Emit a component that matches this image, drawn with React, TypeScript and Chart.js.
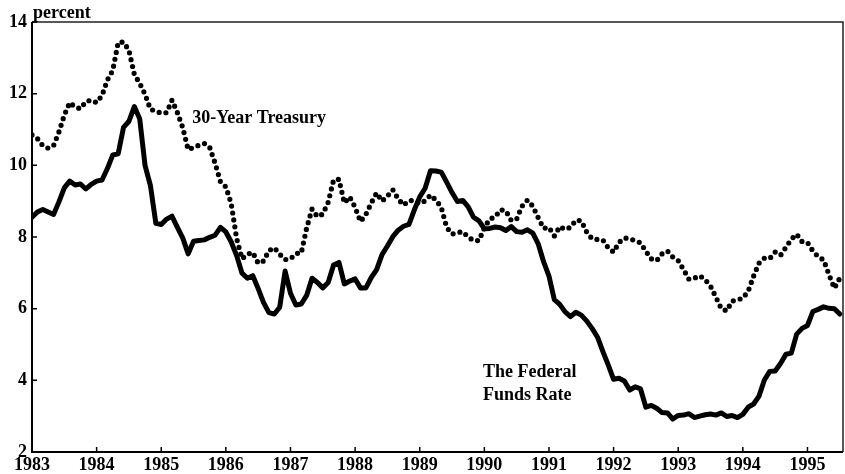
import React, { useEffect, useRef } from "react";
import { Chart, registerables } from "chart.js";

Chart.register(...registerables);

// Monthly data, January 1983 through July 1995 (percent)
const START_YEAR = 1983;
const X_MAX = 1995.55;

const treasury30 = [
  // 1983
  10.85, 10.75, 10.55, 10.48, 10.55, 10.93, 11.40, 11.75, 11.63, 11.58, 11.78, 11.82,
  // 1984
  11.75, 11.95, 12.38, 12.65, 13.43, 13.44, 13.21, 12.54, 12.29, 11.98, 11.56, 11.52,
  // 1985
  11.45, 11.47, 11.82, 11.47, 11.05, 10.44, 10.50, 10.56, 10.61, 10.50, 10.06, 9.54,
  // 1986
  9.40, 8.93, 7.96, 7.39, 7.52, 7.57, 7.27, 7.33, 7.62, 7.70, 7.52, 7.37,
  // 1987
  7.39, 7.54, 7.55, 8.25, 8.78, 8.57, 8.64, 8.97, 9.59, 9.61, 8.95, 9.12,
  // 1988
  8.83, 8.43, 8.63, 8.95, 9.23, 9.00, 9.14, 9.32, 9.06, 8.89, 9.02, 9.01,
  // 1989
  8.93, 9.01, 9.17, 9.03, 8.83, 8.27, 8.08, 8.12, 8.15, 8.00, 7.90, 7.90,
  // 1990
  8.26, 8.50, 8.56, 8.76, 8.73, 8.46, 8.50, 8.86, 9.03, 8.86, 8.54, 8.24,
  // 1991
  8.27, 8.03, 8.29, 8.21, 8.27, 8.47, 8.45, 8.14, 7.95, 7.93, 7.92, 7.70,
  // 1992
  7.58, 7.85, 7.97, 7.96, 7.89, 7.84, 7.60, 7.39, 7.34, 7.53, 7.61, 7.44,
  // 1993
  7.34, 7.09, 6.82, 6.85, 6.92, 6.81, 6.63, 6.32, 6.00, 5.94, 6.21, 6.25,
  // 1994
  6.29, 6.49, 6.91, 7.27, 7.41, 7.40, 7.58, 7.49, 7.71, 7.94, 8.08, 7.87,
  // 1995
  7.85, 7.61, 7.45, 7.36, 6.95, 6.57, 6.85,
];

const fedFunds = [
  // 1983
  8.55, 8.70, 8.77, 8.70, 8.63, 8.98, 9.37, 9.56, 9.45, 9.48, 9.34, 9.47,
  // 1984
  9.56, 9.59, 9.91, 10.29, 10.32, 11.06, 11.23, 11.64, 11.30, 9.99, 9.43, 8.38,
  // 1985
  8.35, 8.50, 8.58, 8.27, 7.97, 7.53, 7.88, 7.90, 7.92, 7.99, 8.05, 8.27,
  // 1986
  8.14, 7.86, 7.48, 6.99, 6.85, 6.92, 6.56, 6.17, 5.89, 5.85, 6.04, 7.05,
  // 1987
  6.43, 6.10, 6.13, 6.37, 6.85, 6.73, 6.58, 6.73, 7.22, 7.29, 6.69, 6.77,
  // 1988
  6.83, 6.58, 6.58, 6.87, 7.09, 7.51, 7.75, 8.01, 8.19, 8.30, 8.35, 8.76,
  // 1989
  9.12, 9.36, 9.85, 9.84, 9.81, 9.53, 9.24, 8.99, 9.02, 8.84, 8.55, 8.45,
  // 1990
  8.23, 8.24, 8.28, 8.26, 8.18, 8.29, 8.15, 8.13, 8.20, 8.11, 7.81, 7.31,
  // 1991
  6.91, 6.25, 6.12, 5.91, 5.78, 5.90, 5.82, 5.66, 5.45, 5.21, 4.81, 4.43,
  // 1992
  4.03, 4.06, 3.98, 3.73, 3.82, 3.76, 3.25, 3.30, 3.22, 3.10, 3.09, 2.92,
  // 1993
  3.02, 3.03, 3.07, 2.96, 3.00, 3.04, 3.06, 3.03, 3.09, 2.99, 3.02, 2.96,
  // 1994
  3.05, 3.25, 3.34, 3.56, 4.01, 4.25, 4.26, 4.47, 4.73, 4.76, 5.29, 5.45,
  // 1995
  5.53, 5.92, 5.98, 6.05, 6.01, 6.00, 5.85,
];

const yearTicks = [1983, 1984, 1985, 1986, 1987, 1988, 1989, 1990, 1991, 1992, 1993, 1994, 1995];
const valueTicks = [2, 4, 6, 8, 10, 12, 14];

const FONT_FAMILY = "'Liberation Serif', 'Times New Roman', serif";

const toPoints = (arr: number[]) =>
  arr.map((v, i) => ({ x: START_YEAR + i / 12, y: v }));

const framePlugin = {
  id: "frame",
  afterDraw(chart: any) {
    const { ctx, chartArea, scales } = chart;
    const { left, right, top, bottom } = chartArea;
    const xs = scales.x;
    const ys = scales.y;
    ctx.save();
    ctx.strokeStyle = "#000";
    // left & bottom axes
    ctx.lineWidth = 2;
    ctx.beginPath();
    ctx.moveTo(left, top);
    ctx.lineTo(left, bottom);
    ctx.lineTo(right, bottom);
    ctx.stroke();
    // top & right border
    ctx.lineWidth = 1.5;
    ctx.strokeStyle = "#222";
    ctx.beginPath();
    ctx.moveTo(left, top);
    ctx.lineTo(right, top);
    ctx.lineTo(right, bottom);
    ctx.stroke();
    // tick marks (inward)
    ctx.lineWidth = 1.5;
    ctx.strokeStyle = "#000";
    ctx.beginPath();
    valueTicks.forEach((v) => {
      const y = ys.getPixelForValue(v);
      ctx.moveTo(left, y);
      ctx.lineTo(left + 5, y);
    });
    yearTicks.forEach((yr) => {
      const x = xs.getPixelForValue(yr);
      ctx.moveTo(x, bottom);
      ctx.lineTo(x, bottom - 5);
    });
    ctx.stroke();

    // texts
    ctx.fillStyle = "#000";
    ctx.font = `bold 18px ${FONT_FAMILY}`;
    ctx.textAlign = "left";
    ctx.textBaseline = "alphabetic";
    ctx.fillText("percent", left + 1, top - 4);

    ctx.textBaseline = "middle";
    ctx.fillText("30-Year Treasury", xs.getPixelForValue(1985.48), ys.getPixelForValue(11.32));
    ctx.fillText("The Federal", xs.getPixelForValue(1989.98), ys.getPixelForValue(4.23));
    ctx.fillText("Funds Rate", xs.getPixelForValue(1989.98), ys.getPixelForValue(3.59));
    ctx.restore();
  },
};

export default function App() {
  const canvasRef = useRef<HTMLCanvasElement | null>(null);

  useEffect(() => {
    const canvas = canvasRef.current;
    if (!canvas) return;
    const chart = new Chart(canvas, {
      type: "line",
      data: {
        datasets: [
          {
            label: "The Federal Funds Rate",
            data: toPoints(fedFunds),
            borderColor: "#000",
            borderWidth: 5,
            borderJoinStyle: "round",
            borderCapStyle: "round",
            pointRadius: 0,
            tension: 0,
            fill: false,
          },
          {
            label: "30-Year Treasury",
            data: toPoints(treasury30),
            borderColor: "#000",
            borderWidth: 5.2,
            borderDash: [0, 7],
            borderCapStyle: "round",
            borderJoinStyle: "round",
            pointRadius: 0,
            tension: 0,
            fill: false,
          },
        ],
      },
      options: {
        responsive: false,
        animation: false,
        events: [],
        layout: { padding: { top: 22, right: 2, left: 0, bottom: 0 } },
        plugins: {
          legend: { display: false },
          tooltip: { enabled: false },
          title: { display: false },
        },
        scales: {
          x: {
            type: "linear",
            min: START_YEAR,
            max: X_MAX,
            afterBuildTicks: (scale: any) => {
              scale.ticks = yearTicks.map((v) => ({ value: v }));
            },
            afterFit: (scale: any) => {
              scale.height = 22;
            },
            grid: { display: false, drawTicks: false },
            border: { display: false },
            ticks: {
              autoSkip: false,
              maxRotation: 0,
              padding: 3,
              color: "#000",
              font: { family: FONT_FAMILY, size: 18, weight: "bold" },
              callback: (v: any) => String(v),
            },
          },
          y: {
            type: "linear",
            min: 2,
            max: 14,
            afterBuildTicks: (scale: any) => {
              scale.ticks = valueTicks.map((v) => ({ value: v }));
            },
            afterFit: (scale: any) => {
              scale.width = 32;
            },
            grid: { display: false, drawTicks: false },
            border: { display: false },
            ticks: {
              padding: 5,
              color: "#000",
              font: { family: FONT_FAMILY, size: 18, weight: "bold" },
              callback: (v: any) => String(v),
            },
          },
        },
      },
      plugins: [framePlugin],
    } as any);
    return () => chart.destroy();
  }, []);

  return (
    <div style={{ position: "absolute", left: 0, top: 0, width: 845, height: 474, background: "#fff" }}>
      <canvas ref={canvasRef} width={845} height={474} />
    </div>
  );
}
